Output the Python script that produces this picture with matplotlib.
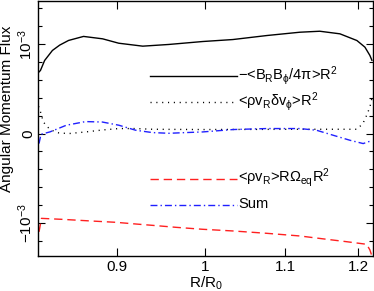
import numpy as np
import matplotlib
matplotlib.use('Agg')
import matplotlib.pyplot as plt
from matplotlib.ticker import MultipleLocator, NullLocator

plt.rcParams['font.family'] = ['Liberation Sans', 'DejaVu Sans']
plt.rcParams['mathtext.fontset'] = 'custom'
plt.rcParams['mathtext.rm'] = 'Liberation Sans'
plt.rcParams['mathtext.it'] = 'Liberation Sans'
plt.rcParams['mathtext.sf'] = 'Liberation Sans'

# values in units of 1e-3
r_maxwell = [0.8195, 0.8214, 0.8255, 0.8332, 0.8405, 0.8494, 0.8647, 0.8846, 0.9017,
             0.9279, 0.9572, 0.9968, 1.0331, 1.0759, 1.1191, 1.1460, 1.1738, 1.1978,
             1.2093, 1.2165, 1.2194]
f_maxwell = [0.684, 0.706, 0.818, 0.930, 0.990, 1.042, 1.087, 1.060, 1.011,
             0.978, 0.997, 1.030, 1.052, 1.097, 1.134, 1.145, 1.116, 1.041,
             0.967, 0.874, 0.820]

r_reynolds = [0.8195, 0.8205, 0.8243, 0.8282, 0.8325, 0.8397, 0.8497, 0.8668, 0.8843,
              0.9020, 0.9202, 0.9387, 0.9964, 1.1191, 1.1978, 1.2064, 1.2118, 1.2165,
              1.2194]
f_reynolds = [0.305, 0.279, 0.129, 0.074, 0.037, 0.007, 0.000, 0.018, 0.040,
              0.056, 0.056, 0.048, 0.045, 0.048, 0.048, 0.112, 0.204, 0.297,
              0.394]

r_advect = [0.8200, 0.8224, 0.8431, 0.8737, 0.8985, 0.9202, 0.9387, 0.9652, 0.9964,
            1.0335, 1.0755, 1.1191, 1.1553, 1.1832, 1.2118, 1.2165, 1.2194]
f_advect = [-1.100, -0.949, -0.960, -0.979, -0.993, -1.012, -1.027, -1.049, -1.071,
            -1.090, -1.116, -1.146, -1.183, -1.210, -1.239, -1.302, -1.370]

r_sum = [0.8200, 0.8219, 0.8306, 0.8471, 0.8668, 0.8843, 0.9020, 0.9202, 0.9387,
         0.9575, 0.9768, 0.9964, 1.0335, 1.0755, 1.1191, 1.1415, 1.1644, 1.1879,
         1.2068, 1.2165]
f_sum = [-0.112, -0.008, 0.018, 0.093, 0.134, 0.129, 0.093, 0.037, 0.011,
         0.003, 0.011, 0.018, 0.045, 0.056, 0.056, 0.037, -0.019, -0.075,
         -0.112, -0.086]

labels = [r'$-$<B$_\mathrm{R}$B$_\phi$/4π>R$^2$',
          r'<ρv$_\mathrm{R}$δv$_\phi$>R$^2$',
          r'<ρv$_\mathrm{R}$>RΩ$_\mathrm{eq}$R$^2$',
          'Sum']

fig = plt.figure(figsize=(3.74, 2.91), dpi=100)
ax = fig.add_axes([0.1016, 0.1203, 0.8957, 0.8777])

styles = [dict(color='k', lw=1.0, ls='-'),
          dict(color='k', lw=1.0, dashes=(0.8, 3.4)),
          dict(color='#ff2020', lw=1.0, dashes=(6, 3.5)),
          dict(color='#2020ff', lw=1.0, dashes=(5, 2.2, 1, 2.2))]
series = [(r_maxwell, f_maxwell), (r_reynolds, f_reynolds),
          (r_advect, f_advect), (r_sum, f_sum)]

for (r, f), st in zip(series, styles):
    ax.plot(r, np.array(f) * 1e-3, **st)

# legend keys drawn inside the axes
key_y = [0.7045, 0.602, 0.3014, 0.1996]
for y, st, lab in zip(key_y, styles, labels):
    ax.plot([0.334, 0.594], [y, y], transform=ax.transAxes, **st)
    ax.text(0.597, y - 0.012, lab, transform=ax.transAxes, fontsize=10.5,
            va='baseline', ha='left')

ax.set_xscale('log')
ax.set_xlim(0.819, 1.221)
ax.set_ylim(-1.37e-3, 1.488e-3)
ax.set_xticks([0.9, 1.0, 1.1, 1.2])
ax.set_xticklabels(['0.9', '1', '1.1', '1.2'])
ax.xaxis.set_minor_locator(NullLocator())
ax.set_yticks([-1e-3, 0, 1e-3])
ax.set_yticklabels([r'$-10^{-3}$', '0', r'$10^{-3}$'], rotation=90, va='center')
ax.yaxis.set_minor_locator(MultipleLocator(2e-4))

ax.tick_params(which='both', direction='in', top=True, right=True, labelsize=11)
ax.tick_params(axis='x', which='major', length=6, width=0.8, pad=3)
ax.tick_params(axis='y', which='major', length=5, width=0.8, pad=2)
ax.tick_params(axis='y', which='minor', length=3, width=0.8)
for s in ax.spines.values():
    s.set_linewidth(1.0)

ax.set_xlabel(r'R/R$_0$', fontsize=11, labelpad=0)
ax.set_ylabel('Angular Momentum Flux', fontsize=11)
ax.yaxis.set_label_coords(-0.072, 0.575)

fig.savefig('out.png', dpi=100)
